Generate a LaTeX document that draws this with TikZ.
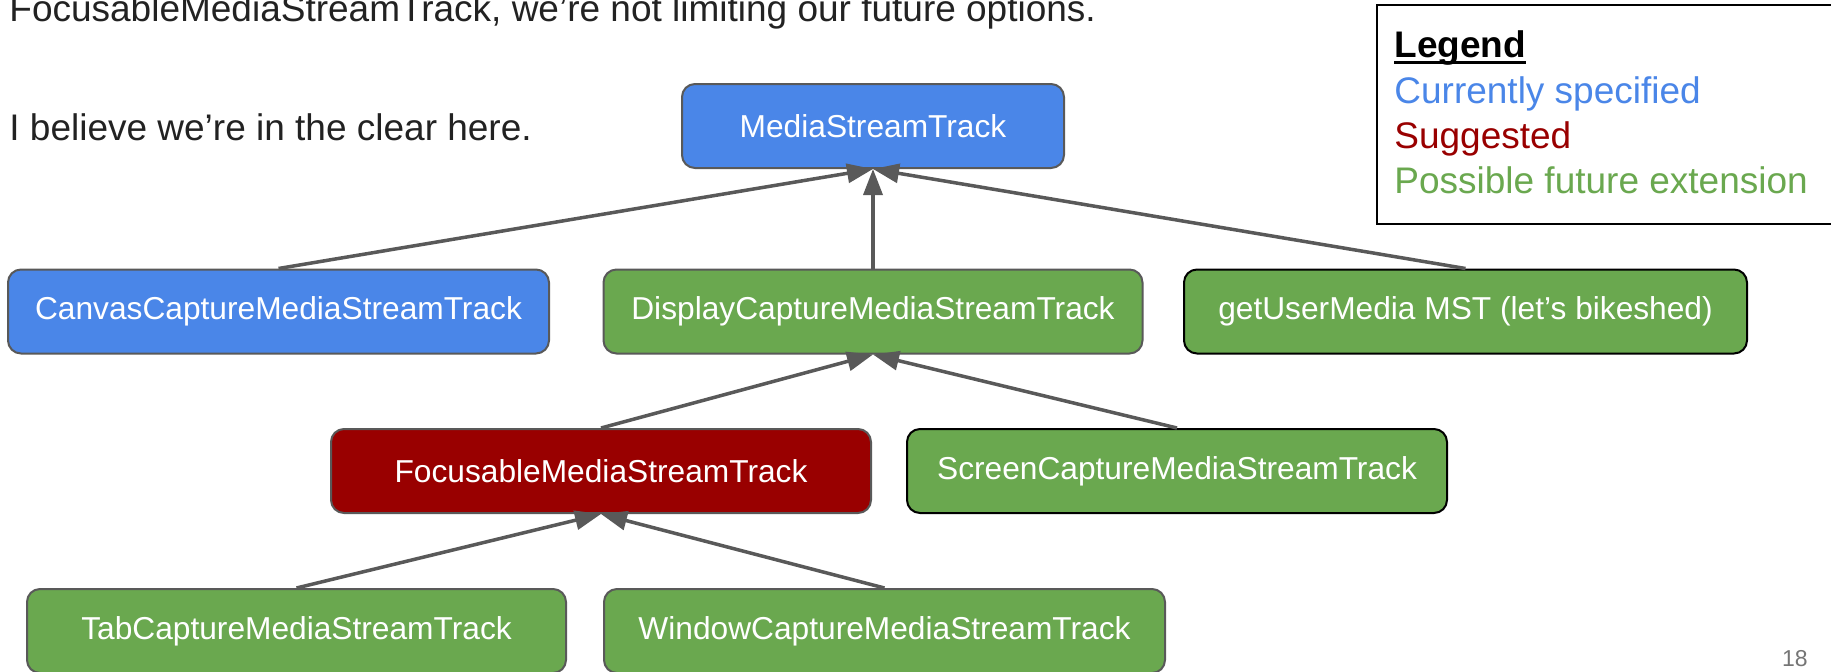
\documentclass[tikz,border=0pt]{standalone}
\usepackage{fontspec}
\setmainfont{Liberation Sans}
\usetikzlibrary{arrows.meta}

\definecolor{specblue}{HTML}{4A86E8}
\definecolor{suggestred}{HTML}{990000}
\definecolor{futuregreen}{HTML}{6AA84F}
\definecolor{edgegray}{HTML}{595959}
\definecolor{bodytext}{HTML}{222222}
\definecolor{slidegray}{HTML}{757575}

\begin{document}
\begin{tikzpicture}
        [
            x = 0.5pt, y = -0.5pt,
            > = {Triangle[length=13pt, width=9.5pt]},
            track/.style = {rectangle, rounded corners=6.5pt, draw=edgegray, line width=1pt,
                            minimum height=42pt, inner sep=0pt, text=white,
                            font=\fontsize{15.85}{19}\selectfont},
            spec/.style = {track, fill=specblue},
            suggest/.style = {track, fill=suggestred},
            future/.style = {track, fill=futuregreen},
            link/.style = {->, draw=edgegray, line width=1.75pt},
            body/.style = {anchor=base west, inner sep=0pt, text=bodytext,
                           font=\fontsize{18.5}{22}\selectfont}
        ]
        \useasboundingbox (0, 0) rectangle (1831, 671);
        \clip (0, 0) rectangle (1831, 671);
        \fill [white] (0, 0) rectangle (1831, 671);

        % slide text
        \node [body] at (9, 21) (intro) {FocusableMediaStreamTrack, we’re not limiting our future options.};
        \node [body] at (9, 140) (verdict) {I believe we’re in the clear here.};

        % legend
        \draw [line width=1pt] (1377, 5) rectangle (1845, 224);
        \node [body, text=black, font=\fontsize{18.5}{22}\selectfont\bfseries] at (1394, 57) (legend) {Legend};
        \draw [line width=1.5pt] ([yshift=-2.5pt]legend.base west) -- ([yshift=-2.5pt]legend.base east);
        \node [body, text=specblue] at (1394, 103) (keyspec) {Currently specified};
        \node [body, text=suggestred] at (1394, 148) (keysuggest) {Suggested};
        \node [body, text=futuregreen] at (1394, 193) (keyfuture) {Possible future extension};

        % tracks
        \node [spec, minimum width=191pt] at (873, 126) (mst) {MediaStreamTrack};
        \node [spec, minimum width=270.5pt] at (278.5, 311.5) (canvas) {CanvasCaptureMediaStreamTrack};
        \node [future, minimum width=269.5pt] at (873, 311.5) (display) {DisplayCaptureMediaStreamTrack};
        \node [future, draw=black, minimum width=281.5pt] at (1465.5, 311.5) (gum) {getUserMedia MST (let’s bikeshed)};
        \node [suggest, minimum width=270pt] at (601, 471) (focusable) {FocusableMediaStreamTrack};
        \node [future, draw=black, minimum width=270pt] at (1177, 471) (screen) {ScreenCaptureMediaStreamTrack};
        \node [future, minimum width=269.5pt] at (296.5, 631) (tab) {TabCaptureMediaStreamTrack};
        \node [future, minimum width=280.5pt] at (884.5, 631) (window) {WindowCaptureMediaStreamTrack};

        \draw [link] (canvas.north) -- (mst.south);
        \draw [link] (display.north) -- (mst.south);
        \draw [link] (gum.north) -- (mst.south);
        \draw [link] (focusable.north) -- (display.south);
        \draw [link] (screen.north) -- (display.south);
        \draw [link] (tab.north) -- (focusable.south);
        \draw [link] (window.north) -- (focusable.south);

        \node [anchor=base east, inner sep=0pt, text=slidegray, font=\fontsize{11.5}{14}\selectfont] at (1808, 666) (slideno) {18};
    \end{tikzpicture}
\end{document}
